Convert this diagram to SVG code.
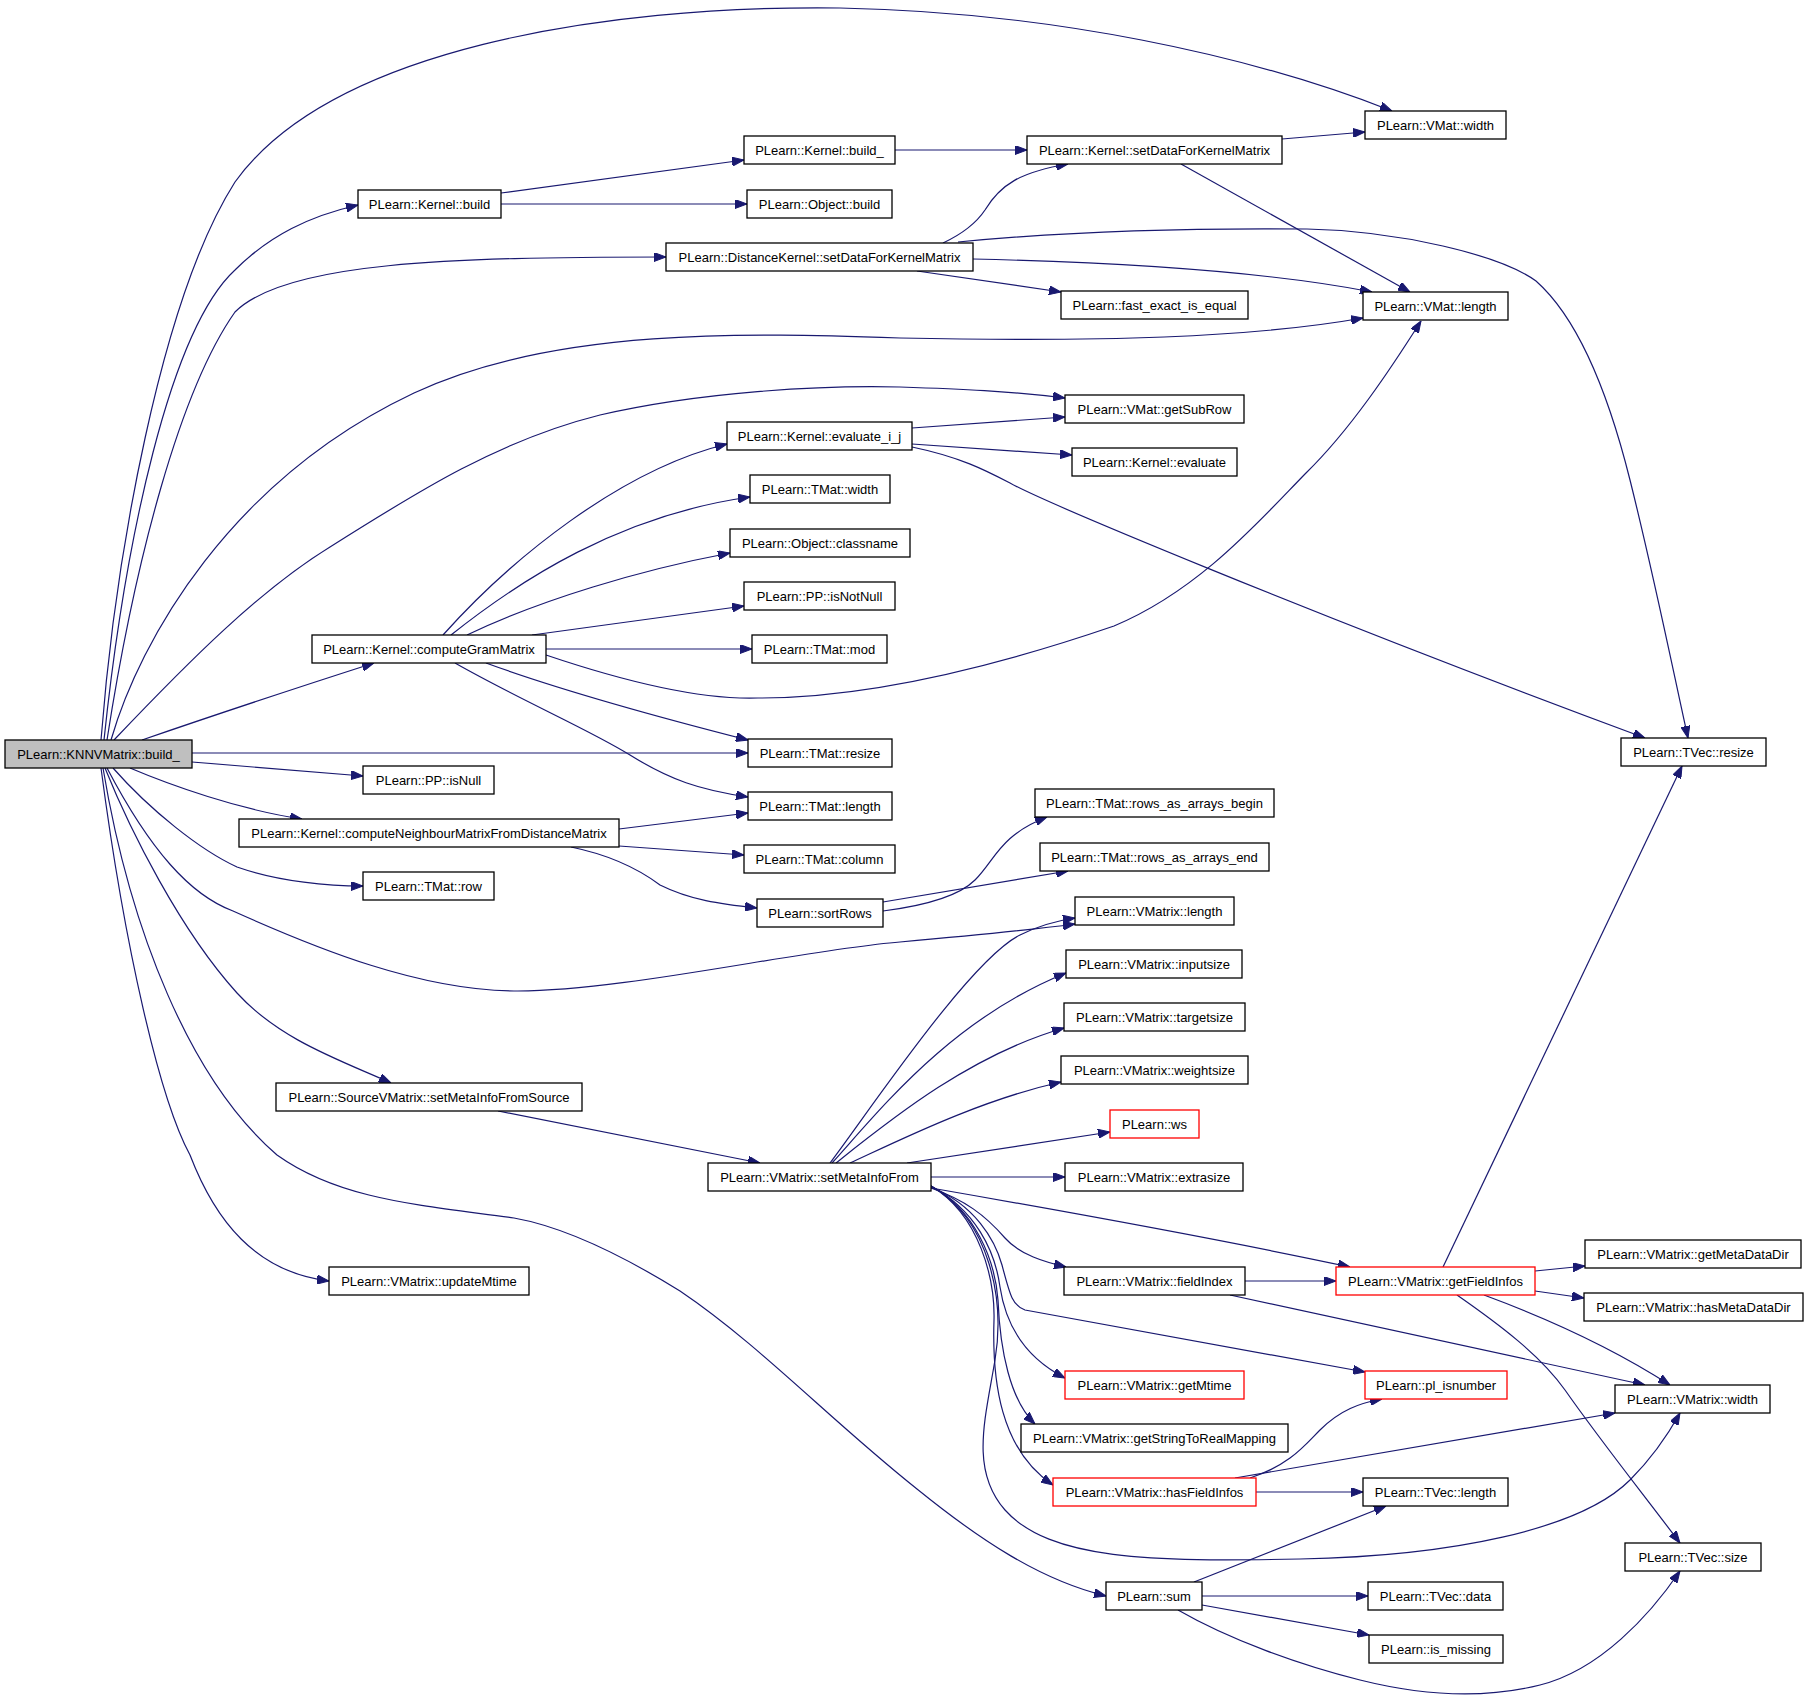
<svg xmlns="http://www.w3.org/2000/svg" width="1808" height="1699" viewBox="0 0 1808 1699">
<style>
.n rect{fill:#fff;stroke:#000;stroke-width:1.3}
.n.r rect{stroke:#ff0000}
.n.root rect{fill:#bfbfbf}
.n text{font-family:"Liberation Sans",Arial,sans-serif;font-size:13px;text-anchor:middle;fill:#000}
#edges path{fill:none;stroke:#191970;stroke-width:1.2;marker-end:url(#a)}
</style>
<defs>
<marker id="a" markerUnits="userSpaceOnUse" markerWidth="12" markerHeight="9" refX="12" refY="4.5" orient="auto"><path d="M0,0 L12,4.5 L0,9 z" fill="#191970" stroke="#191970" stroke-width="1"/></marker>
</defs>
<rect width="1808" height="1699" fill="#fff"/>
<g id="edges">
<path d="M101,740 C115,560 160,300 235,182 C330,50 600,5 840,8 C1050,12 1250,55 1392,111"/>
<path d="M104,740 C125,540 170,330 235,270 C270,235 310,216 358,205"/>
<path d="M107,740 C135,560 180,390 235,312 C285,262 450,257 666,257"/>
<path d="M111,740 C140,640 230,480 414,393 C554,327 750,333 900,338 C1100,342 1250,338 1363,318"/>
<path d="M114,740 C190,660 260,590 330,547 C420,490 500,440 600,415 C700,392 820,385 900,387 C960,389 1010,391 1065,398"/>
<path d="M142,740 C200,720 290,690 374,663"/>
<path d="M192,753 L748,753"/>
<path d="M192,762 L363,776"/>
<path d="M130,768 C170,785 240,810 302,819"/>
<path d="M113,768 C150,810 200,850 237,867 C280,882 330,886 363,886"/>
<path d="M107,768 C150,850 190,895 233,911 C320,950 420,990 514,991 C620,992 800,950 900,942 C980,935 1030,930 1075,924"/>
<path d="M105,768 C130,830 180,930 237,993 C280,1040 340,1060 391,1083"/>
<path d="M103,768 C130,930 190,1080 277,1155 C340,1200 420,1205 514,1218 C570,1228 630,1260 680,1291 C760,1345 830,1420 917,1489 C980,1540 1040,1580 1106,1596"/>
<path d="M101,768 C125,950 160,1100 190,1155 C215,1220 255,1272 329,1281"/>
<path d="M501,193 L744,160"/>
<path d="M501,204 L747,204"/>
<path d="M895,150 L1027,150"/>
<path d="M1282,139 L1365,132"/>
<path d="M1181,164 L1410,292"/>
<path d="M943,243 C960,235 975,225 985,210 C1000,185 1020,172 1068,164"/>
<path d="M958,242 C1080,230 1200,228 1307,229 C1400,231 1500,255 1536,281 C1580,320 1610,400 1630,480 C1655,580 1675,680 1688,738"/>
<path d="M973,259 C1100,262 1260,270 1372,292"/>
<path d="M917,271 L1061,292"/>
<path d="M912,428 L1065,417"/>
<path d="M912,444 L1072,455"/>
<path d="M912,447 C960,457 985,470 1010,483 C1040,500 1300,610 1645,738"/>
<path d="M443,635 C510,560 620,470 727,444"/>
<path d="M451,635 C520,580 620,515 750,497"/>
<path d="M467,635 C540,600 640,570 730,553"/>
<path d="M532,635 L744,606"/>
<path d="M546,649 L752,649"/>
<path d="M546,655 C620,680 700,700 758,698 C870,698 1000,665 1114,626 C1200,590 1260,520 1306,473 C1350,430 1390,370 1421,321"/>
<path d="M486,663 C560,690 650,715 748,740"/>
<path d="M455,663 C520,700 590,730 630,755 C670,780 700,790 748,797"/>
<path d="M619,829 L748,813"/>
<path d="M619,846 L744,855"/>
<path d="M571,847 C610,855 640,870 660,885 C690,900 720,904 757,908"/>
<path d="M883,911 C930,905 960,895 975,880 C995,860 1000,835 1047,817"/>
<path d="M883,902 L1068,871"/>
<path d="M498,1111 L760,1163"/>
<path d="M830,1163 C870,1110 970,960 1020,935 C1040,925 1055,921 1075,918"/>
<path d="M832,1163 C880,1110 950,1020 1066,973"/>
<path d="M836,1163 C890,1120 970,1055 1064,1028"/>
<path d="M850,1163 C900,1140 980,1100 1061,1082"/>
<path d="M907,1163 L1110,1132"/>
<path d="M931,1177 L1065,1177"/>
<path d="M931,1188 C1000,1200 1200,1235 1350,1267"/>
<path d="M931,1188 C965,1200 985,1215 1005,1238 C1020,1255 1045,1262 1066,1267"/>
<path d="M931,1187 C975,1205 995,1240 1002,1265 C1010,1295 1012,1305 1025,1310 L1365,1372"/>
<path d="M931,1186 C975,1210 995,1250 1000,1287 C1005,1320 1020,1355 1065,1378"/>
<path d="M931,1186 C975,1210 995,1260 998,1300 C1000,1350 1010,1400 1035,1424"/>
<path d="M931,1186 C980,1215 995,1280 994,1320 C992,1380 1000,1450 1053,1485"/>
<path d="M931,1186 C990,1220 1005,1300 995,1360 C985,1420 970,1470 1005,1510 C1050,1560 1150,1562 1300,1559 C1450,1556 1580,1530 1630,1480 C1650,1460 1665,1440 1680,1413"/>
<path d="M1245,1281 L1336,1281"/>
<path d="M1230,1295 L1645,1385"/>
<path d="M1443,1267 L1682,766"/>
<path d="M1535,1271 L1585,1266"/>
<path d="M1535,1291 L1584,1298"/>
<path d="M1484,1295 C1530,1312 1600,1340 1670,1385"/>
<path d="M1457,1295 C1500,1325 1540,1355 1565,1390 C1600,1440 1640,1490 1680,1543"/>
<path d="M1250,1478 C1290,1465 1305,1445 1320,1430 C1340,1410 1360,1403 1382,1399"/>
<path d="M1235,1478 L1615,1413"/>
<path d="M1256,1492 L1363,1492"/>
<path d="M1194,1582 L1386,1506"/>
<path d="M1202,1596 L1368,1596"/>
<path d="M1202,1605 L1369,1635"/>
<path d="M1178,1610 C1230,1640 1300,1665 1360,1680 C1420,1695 1480,1700 1540,1685 C1600,1670 1650,1615 1680,1571"/>
</g>
<g id="n0" class="n root"><rect x="5" y="740" width="187" height="28"/><text x="98.5" y="758.5">PLearn::KNNVMatrix::build_</text></g>
<g id="n1" class="n"><rect x="358" y="190" width="143" height="28"/><text x="429.5" y="208.5">PLearn::Kernel::build</text></g>
<g id="n2" class="n"><rect x="744" y="136" width="151" height="28"/><text x="819.5" y="154.5">PLearn::Kernel::build_</text></g>
<g id="n3" class="n"><rect x="747" y="190" width="145" height="28"/><text x="819.5" y="208.5">PLearn::Object::build</text></g>
<g id="n4" class="n"><rect x="1027" y="136" width="255" height="28"/><text x="1154.5" y="154.5">PLearn::Kernel::setDataForKernelMatrix</text></g>
<g id="n5" class="n"><rect x="1365" y="111" width="141" height="28"/><text x="1435.5" y="129.5">PLearn::VMat::width</text></g>
<g id="n6" class="n"><rect x="666" y="243" width="307" height="28"/><text x="819.5" y="261.5">PLearn::DistanceKernel::setDataForKernelMatrix</text></g>
<g id="n7" class="n"><rect x="1061" y="291" width="187" height="28"/><text x="1154.5" y="309.5">PLearn::fast_exact_is_equal</text></g>
<g id="n8" class="n"><rect x="1363" y="292" width="145" height="28"/><text x="1435.5" y="310.5">PLearn::VMat::length</text></g>
<g id="n9" class="n"><rect x="1621" y="738" width="145" height="28"/><text x="1693.5" y="756.5">PLearn::TVec::resize</text></g>
<g id="n10" class="n"><rect x="1065" y="395" width="179" height="28"/><text x="1154.5" y="413.5">PLearn::VMat::getSubRow</text></g>
<g id="n11" class="n"><rect x="727" y="422" width="185" height="28"/><text x="819.5" y="440.5">PLearn::Kernel::evaluate_i_j</text></g>
<g id="n12" class="n"><rect x="1072" y="448" width="165" height="28"/><text x="1154.5" y="466.5">PLearn::Kernel::evaluate</text></g>
<g id="n13" class="n"><rect x="750" y="475" width="140" height="28"/><text x="820" y="493.5">PLearn::TMat::width</text></g>
<g id="n14" class="n"><rect x="730" y="529" width="180" height="28"/><text x="820" y="547.5">PLearn::Object::classname</text></g>
<g id="n15" class="n"><rect x="744" y="582" width="151" height="28"/><text x="819.5" y="600.5">PLearn::PP::isNotNull</text></g>
<g id="n16" class="n"><rect x="312" y="635" width="234" height="28"/><text x="429" y="653.5">PLearn::Kernel::computeGramMatrix</text></g>
<g id="n17" class="n"><rect x="752" y="635" width="135" height="28"/><text x="819.5" y="653.5">PLearn::TMat::mod</text></g>
<g id="n18" class="n"><rect x="748" y="739" width="144" height="28"/><text x="820" y="757.5">PLearn::TMat::resize</text></g>
<g id="n19" class="n"><rect x="363" y="766" width="131" height="28"/><text x="428.5" y="784.5">PLearn::PP::isNull</text></g>
<g id="n20" class="n"><rect x="748" y="792" width="144" height="28"/><text x="820" y="810.5">PLearn::TMat::length</text></g>
<g id="n21" class="n"><rect x="239" y="819" width="380" height="28"/><text x="429" y="837.5">PLearn::Kernel::computeNeighbourMatrixFromDistanceMatrix</text></g>
<g id="n22" class="n"><rect x="744" y="845" width="151" height="28"/><text x="819.5" y="863.5">PLearn::TMat::column</text></g>
<g id="n23" class="n"><rect x="1035" y="789" width="239" height="28"/><text x="1154.5" y="807.5">PLearn::TMat::rows_as_arrays_begin</text></g>
<g id="n24" class="n"><rect x="1040" y="843" width="229" height="28"/><text x="1154.5" y="861.5">PLearn::TMat::rows_as_arrays_end</text></g>
<g id="n25" class="n"><rect x="363" y="872" width="131" height="28"/><text x="428.5" y="890.5">PLearn::TMat::row</text></g>
<g id="n26" class="n"><rect x="757" y="899" width="126" height="28"/><text x="820" y="917.5">PLearn::sortRows</text></g>
<g id="n27" class="n"><rect x="1075" y="897" width="159" height="28"/><text x="1154.5" y="915.5">PLearn::VMatrix::length</text></g>
<g id="n28" class="n"><rect x="1066" y="950" width="176" height="28"/><text x="1154" y="968.5">PLearn::VMatrix::inputsize</text></g>
<g id="n29" class="n"><rect x="1064" y="1003" width="181" height="28"/><text x="1154.5" y="1021.5">PLearn::VMatrix::targetsize</text></g>
<g id="n30" class="n"><rect x="1061" y="1056" width="187" height="28"/><text x="1154.5" y="1074.5">PLearn::VMatrix::weightsize</text></g>
<g id="n31" class="n r"><rect x="1110" y="1110" width="89" height="28"/><text x="1154.5" y="1128.5">PLearn::ws</text></g>
<g id="n32" class="n"><rect x="276" y="1083" width="306" height="28"/><text x="429" y="1101.5">PLearn::SourceVMatrix::setMetaInfoFromSource</text></g>
<g id="n33" class="n"><rect x="708" y="1163" width="223" height="28"/><text x="819.5" y="1181.5">PLearn::VMatrix::setMetaInfoFrom</text></g>
<g id="n34" class="n"><rect x="1065" y="1163" width="178" height="28"/><text x="1154" y="1181.5">PLearn::VMatrix::extrasize</text></g>
<g id="n35" class="n"><rect x="1064" y="1267" width="181" height="28"/><text x="1154.5" y="1285.5">PLearn::VMatrix::fieldIndex</text></g>
<g id="n36" class="n r"><rect x="1336" y="1267" width="199" height="28"/><text x="1435.5" y="1285.5">PLearn::VMatrix::getFieldInfos</text></g>
<g id="n37" class="n"><rect x="1585" y="1240" width="216" height="28"/><text x="1693" y="1258.5">PLearn::VMatrix::getMetaDataDir</text></g>
<g id="n38" class="n"><rect x="1584" y="1293" width="219" height="28"/><text x="1693.5" y="1311.5">PLearn::VMatrix::hasMetaDataDir</text></g>
<g id="n39" class="n"><rect x="329" y="1267" width="200" height="28"/><text x="429" y="1285.5">PLearn::VMatrix::updateMtime</text></g>
<g id="n40" class="n r"><rect x="1065" y="1371" width="179" height="28"/><text x="1154.5" y="1389.5">PLearn::VMatrix::getMtime</text></g>
<g id="n41" class="n r"><rect x="1365" y="1371" width="142" height="28"/><text x="1436" y="1389.5">PLearn::pl_isnumber</text></g>
<g id="n42" class="n"><rect x="1615" y="1385" width="155" height="28"/><text x="1692.5" y="1403.5">PLearn::VMatrix::width</text></g>
<g id="n43" class="n"><rect x="1021" y="1424" width="267" height="28"/><text x="1154.5" y="1442.5">PLearn::VMatrix::getStringToRealMapping</text></g>
<g id="n44" class="n r"><rect x="1053" y="1478" width="203" height="28"/><text x="1154.5" y="1496.5">PLearn::VMatrix::hasFieldInfos</text></g>
<g id="n45" class="n"><rect x="1363" y="1478" width="145" height="28"/><text x="1435.5" y="1496.5">PLearn::TVec::length</text></g>
<g id="n46" class="n"><rect x="1625" y="1543" width="136" height="28"/><text x="1693" y="1561.5">PLearn::TVec::size</text></g>
<g id="n47" class="n"><rect x="1106" y="1582" width="96" height="28"/><text x="1154" y="1600.5">PLearn::sum</text></g>
<g id="n48" class="n"><rect x="1368" y="1582" width="135" height="28"/><text x="1435.5" y="1600.5">PLearn::TVec::data</text></g>
<g id="n49" class="n"><rect x="1369" y="1635" width="134" height="28"/><text x="1436" y="1653.5">PLearn::is_missing</text></g>
</svg>
